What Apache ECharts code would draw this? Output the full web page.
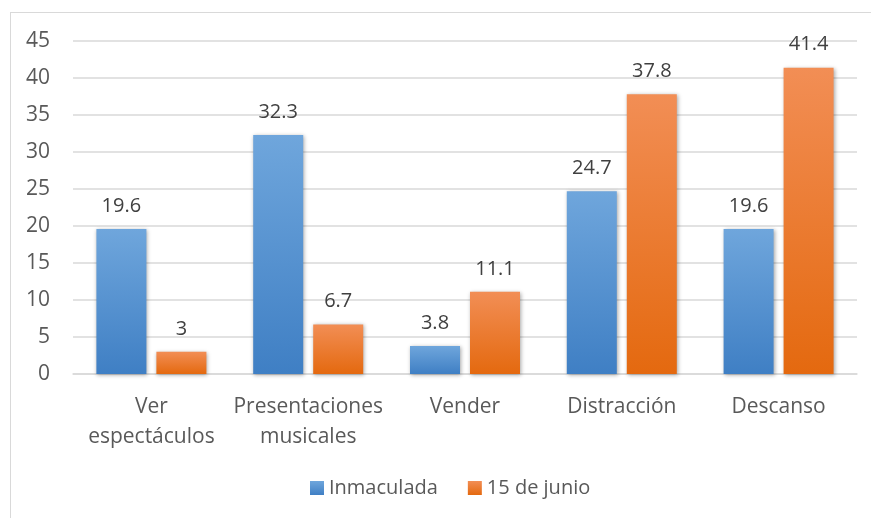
<!DOCTYPE html>
<html>
<head>
<meta charset="utf-8">
<script src="https://cdn.jsdelivr.net/npm/echarts@6/dist/echarts.min.js"></script>
<style>
    html, body { margin: 0; padding: 0; background: #fff; }
    #frame { position: absolute; left: 10px; top: 12px; width: 870px; height: 520px; border: 1px solid #d9d9d9; box-sizing: border-box; }
    #chart { width: 871px; height: 518px; position: absolute; left: 0; top: 0; }
</style>
</head>
<body>
<div id="frame"></div>
<div id="chart"></div>
<script>
// 数据
const categories = ['Ver\nespectáculos', 'Presentaciones\nmusicales', 'Vender', 'Distracción', 'Descanso'];
const inmaculada = [19.6, 32.3, 3.8, 24.7, 19.6];
const junio15 = [3, 6.7, 11.1, 37.8, 41.4];
const seriesNames = ['Inmaculada', '15 de junio'];

const font = '"Open Sans", "Liberation Sans", sans-serif';

const grad = (top, bottom) => new echarts.graphic.LinearGradient(0, 0, 0, 1, [
    { offset: 0, color: top },
    { offset: 1, color: bottom }
], false);

const barStyle = (top, bottom) => ({
    color: grad(top, bottom),
    shadowColor: 'rgba(0,0,0,0.35)',
    shadowBlur: 4,
    shadowOffsetX: 1,
    shadowOffsetY: 1
});

const label = {
    show: true,
    position: 'top',
    distance: 13,
    fontFamily: font,
    fontSize: 20,
    color: '#404040'
};

const option = {
    animation: false,
    textStyle: { fontFamily: font },
    grid: { left: 73, right: 14, top: 41, bottom: 144, containLabel: false },
    legend: {
        data: [
            { name: seriesNames[0], itemStyle: { color: grad('#6fa6dc', '#3f7fc4') } },
            { name: seriesNames[1], itemStyle: { color: grad('#f28e55', '#e4690f') } }
        ],
        bottom: 15,
        left: 305,
        icon: 'rect',
        itemWidth: 14,
        itemHeight: 14,
        itemGap: 30,
        textStyle: { fontSize: 20, color: '#595959', fontFamily: font }
    },
    xAxis: {
        type: 'category',
        data: categories,
        axisLine: { lineStyle: { color: '#d9d9d9', width: 1.5 } },
        axisTick: { show: false },
        axisLabel: { interval: 0, fontSize: 21, color: '#595959', margin: 18, lineHeight: 30, fontFamily: font }
    },
    yAxis: {
        type: 'value',
        min: 0,
        max: 45,
        interval: 5,
        axisLine: { show: false },
        axisTick: { show: false },
        splitLine: { lineStyle: { color: '#d9d9d9', width: 1.5 } },
        axisLabel: { fontSize: 21, color: '#595959', margin: 23, fontFamily: font }
    },
    series: [
        {
            name: seriesNames[0],
            type: 'bar',
            data: inmaculada,
            barWidth: 50,
            barGap: '20%',
            itemStyle: barStyle('#6fa6dc', '#3f7fc4'),
            label: label
        },
        {
            name: seriesNames[1],
            type: 'bar',
            data: junio15,
            barWidth: 50,
            itemStyle: barStyle('#f28e55', '#e4690f'),
            label: label
        }
    ]
};

const myChart = echarts.init(document.getElementById('chart'));
myChart.setOption(option);
</script>
</body>
</html>
